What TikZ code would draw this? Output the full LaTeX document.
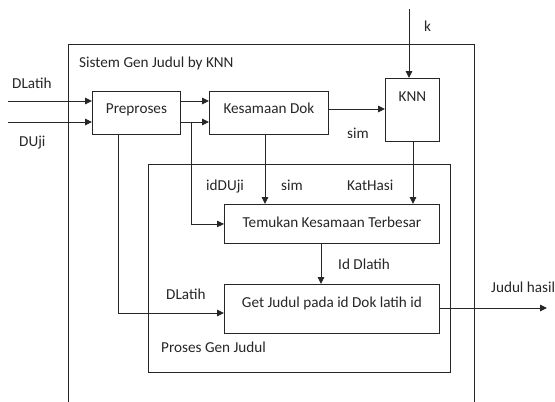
\documentclass[tikz,border=0pt]{standalone}
\usepackage{fontspec}
\setmainfont{Carlito}
\usetikzlibrary{arrows.meta}
\definecolor{ink}{HTML}{262626}
\begin{document}
\begin{tikzpicture}[x=1pt,y=-1pt,
  every node/.style={font=\fontsize{15.2}{17}\selectfont, text=ink},
  ln/.style={draw=ink, line width=0.9pt},
  arr/.style={ln, -{Triangle[length=7pt,width=6.5pt]}},
  boxbase/.style={draw=ink, line width=0.9pt, anchor=north west, inner sep=0pt},
  lbl/.style={anchor=base west, inner sep=0pt}]
\useasboundingbox (0,0) rectangle (555,402);
% outer system frame (open at bottom)
\draw[ln] (68,402) -- (68,44) -- (474,44) -- (474,402);
\node[lbl] (sys) at (79,67) {Sistem Gen Judul by KNN};
% inner process frame
\node[boxbase, minimum width=302pt, minimum height=208pt] (proses) at (148,164) {};
\node[lbl] (proslbl) at (161,352) {Proses Gen Judul};
% boxes
\node[boxbase, minimum width=88pt, text height=22pt, text depth=21pt] (pre) at (92,91) {Preproses};
\node[boxbase, minimum width=119pt, text height=22pt, text depth=21pt] (kes) at (209,91) {Kesamaan Dok};
\node[boxbase, minimum width=54pt, text height=23pt, text depth=40pt] (knn) at (385,78) {KNN};
\node[boxbase, minimum width=215pt, text height=23pt, text depth=16pt] (tem) at (224,204) {Temukan Kesamaan Terbesar};
\node[boxbase, minimum width=215pt, text height=23pt, text depth=26pt] (get) at (224,284) {Get Judul pada id Dok latih id};
% coordinates
\coordinate (inA) at (8,101);
\coordinate (inB) at (8,122);
\coordinate (s1) at (0,109);
\coordinate (kin) at (409,9);
\coordinate (kx) at (413,0);
\coordinate (sx) at (265,0);
\coordinate (br) at (191,122);
\coordinate (px) at (118,0);
\coordinate (dl) at (0,313);
\coordinate (tx) at (321,0);
\coordinate (out) at (547,308);
% connectors
\draw[arr] (inA) -- (inA -| pre.west);
\draw[arr] (inB) -- (inB -| pre.west);
\draw[arr] (inA -| pre.east) -- (inA -| kes.west);
\draw[arr] (inB -| pre.east) -- (inB -| kes.west);
\draw[arr] (s1 -| kes.east) -- (s1 -| knn.west);
\draw[arr] (kin) -- (kin |- knn.north);
\draw[arr] (kx |- knn.south) -- (kx |- tem.north);
\draw[arr] (sx |- kes.south) -- (sx |- tem.north);
\draw[arr] (br) |- (tem.west);
\draw[arr] (px |- pre.south) |- (dl -| get.west);
\draw[arr] (tx |- tem.south) -- (tx |- get.north);
\draw[arr] (get.east |- out) -- (out);
% labels
\node[lbl] (ldlatih) at (12,88) {DLatih};
\node[lbl] (lduji) at (19,146) {DUji};
\node[lbl] (lsim1) at (347,138) {sim};
\node[lbl] (lk) at (424,31) {k};
\node[lbl] (liddu) at (206,190) {idDUji};
\node[lbl] (lsim2) at (281,190) {sim};
\node[lbl] (lkat) at (347,190) {KatHasi};
\node[lbl] (lidd) at (338,269) {Id Dlatih};
\node[lbl] (ldl2) at (166,299) {DLatih};
\node[lbl] (ljud) at (491,292) {Judul hasil};
\end{tikzpicture}
\end{document}
